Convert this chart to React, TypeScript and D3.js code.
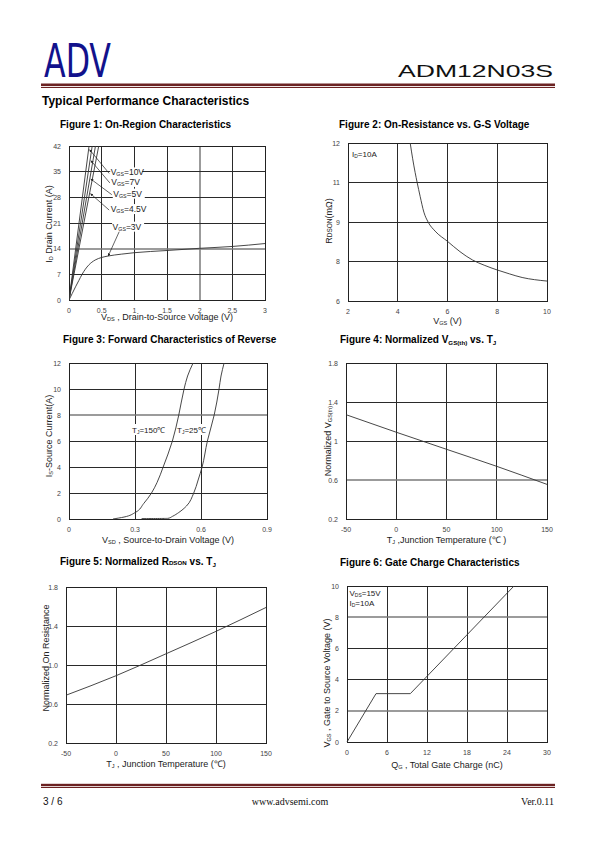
import React from 'react';
import * as d3 from 'd3';

const FONT = "'Liberation Sans', Arial, Helvetica, sans-serif";

// ---------- Figure 1 data ----------
const f1VdsTicks = [0, 0.5, 1, 1.5, 2, 2.5, 3];
const f1IdTicks = [0, 7, 14, 21, 28, 35, 42];
const f1Vgs3Vds = [0, 0.05, 0.1, 0.15, 0.2, 0.25, 0.3, 0.4, 0.5, 0.6, 0.8, 1.0, 1.5, 2.0, 2.5, 3.0];
const f1Vgs3Id = [0, 1.8, 3.6, 5.3, 7.0, 8.4, 9.5, 10.9, 11.6, 12.0, 12.5, 12.9, 13.5, 14.1, 14.6, 15.4];
const f1SteepNames = ['10V', '7V', '5V', '4.5V'];
const f1SteepTopVds = [0.307, 0.355, 0.405, 0.455];
const f1SteepTopId = 42;
const f1LabelNames = ['10V', '7V', '5V', '4.5V', '3V'];
const f1LabelPos = [[0.63, 34.8], [0.64, 32.2], [0.67, 29.0], [0.63, 24.8], [0.66, 20.0]];
const f1ArrowTargetId = [41, 38, 33, 29];
const f1Vgs3Target = [0.6, 12.0];

// ---------- Figure 2 data ----------
const f2VgsTicks = [2, 4, 6, 8, 10];
const f2RTicks = [6, 8, 9, 11, 12];
const f2Vgs = [4.5, 4.6, 4.7, 4.78, 4.9, 5.05, 5.22, 5.5, 6.0, 6.5, 7.0, 7.5, 8.0, 8.5, 9.0, 9.5, 10.0];
const f2R = [12, 11.6, 11.25, 11, 10.3, 9.5, 9, 8.77, 8.51, 8.25, 8.04, 7.8, 7.57, 7.37, 7.19, 7.08, 7.01];

// ---------- Figure 3 data ----------
const f3VsdTicks = [0, 0.3, 0.6, 0.9];
const f3IsTicks = [0, 2, 4, 6, 8, 10, 12];
const f3T150Vsd = [0.2, 0.25, 0.301, 0.34, 0.375, 0.4, 0.428, 0.47, 0.499, 0.523, 0.539, 0.564];
const f3T150Is = [0, 0.15, 0.5, 1.2, 2, 2.8, 4, 6, 8, 10, 11, 12];
const f3T25Vsd = [0.33, 0.45, 0.47, 0.499, 0.534, 0.567, 0.587, 0.605, 0.629, 0.66, 0.682, 0.691, 0.705];
const f3T25Is = [0.03, 0.05, 0.2, 0.5, 1, 2, 3, 4, 6, 8, 10, 11, 12];

// ---------- Figure 4 data ----------
const f4TjTicks = [-50, 0, 50, 100, 150];
const f4NTicks = [0.2, 0.6, 1, 1.4, 1.8];
const f4Tj = [-50, 0, 50, 100, 150];
const f4Vth = [1.27, 1.09, 0.915, 0.74, 0.555];

// ---------- Figure 5 data ----------
const f5TjTicks = [-50, 0, 50, 100, 150];
const f5NTicks = [0.2, 0.6, 1.0, 1.4, 1.8];
const f5Tj = [-50, 0, 50, 100, 150];
const f5Rds = [0.69, 0.89, 1.115, 1.345, 1.59];

// ---------- Figure 6 data ----------
const f6QgTicks = [0, 6, 12, 18, 24, 30];
const f6VgsTicks = [0, 2, 4, 6, 8, 10];
const f6Qg = [0, 4.35, 9.5, 25.05];
const f6Vgs = [0, 3.1, 3.1, 10];

type Box = { l: number; r: number; t: number; b: number };

const GRID = '#2a2a2a';
const SOFT = '#7a7a7a';
const TICK = '#444';
const CURVE = '#333';

function Panel(props: {
  box: Box;
  x: (v: number) => number;
  y: (v: number) => number;
  xTicks: number[];
  yTicks: number[];
  xFmt?: (v: number) => string;
  yFmt?: (v: number) => string;
  xTickY: number;
  softX?: number[];
  softY?: number[];
}) {
  const { box, x, y, xTicks, yTicks, xTickY } = props;
  const softX = props.softX || [];
  const softY = props.softY || [];
  const xFmt = props.xFmt || ((v: number) => String(v));
  const yFmt = props.yFmt || ((v: number) => String(v));
  const crisp = (v: number) => Math.round(v - 0.5) + 0.5;
  return (
    <g>
      {xTicks.map((t, i) => {
        const px = x(t);
        if (Math.abs(px - box.l) < 1 || Math.abs(px - box.r) < 1) return null;
        const soft = softX.includes(t);
        return (
          <line
            key={'vx' + i}
            x1={soft ? Math.round(px) : crisp(px)}
            x2={soft ? Math.round(px) : crisp(px)}
            y1={box.t}
            y2={box.b}
            stroke={soft ? SOFT : GRID}
            strokeWidth={soft ? 1.5 : 1}
          />
        );
      })}
      {yTicks.map((t, i) => {
        const py = y(t);
        if (Math.abs(py - box.t) < 1 || Math.abs(py - box.b) < 1) return null;
        const soft = softY.includes(t);
        return (
          <line
            key={'hy' + i}
            x1={box.l}
            x2={box.r}
            y1={soft ? Math.round(py) : crisp(py)}
            y2={soft ? Math.round(py) : crisp(py)}
            stroke={soft ? SOFT : GRID}
            strokeWidth={soft ? 1.5 : 1}
          />
        );
      })}
      <rect
        x={crisp(box.l)}
        y={crisp(box.t)}
        width={Math.round(box.r - box.l)}
        height={Math.round(box.b - box.t)}
        fill="none"
        stroke="#222"
        strokeWidth={1}
      />
      {xTicks.map((t, i) => (
        <text key={'xl' + i} x={x(t)} y={xTickY} fontSize={7} fill={TICK} textAnchor="middle" dominantBaseline="central">
          {xFmt(t)}
        </text>
      ))}
      {yTicks.map((t, i) => (
        <text key={'yl' + i} x={box.l - 8} y={y(t)} fontSize={7} fill={TICK} textAnchor="end" dominantBaseline="central">
          {yFmt(t)}
        </text>
      ))}
    </g>
  );
}

function Sub({ base, sub, rest, size }: { base: string; sub: string; rest: string; size: number }) {
  const s = size * 0.62;
  const d = size * 0.22;
  return (
    <>
      <tspan>{base}</tspan>
      <tspan fontSize={s} dy={d}>{sub}</tspan>
      <tspan dy={-d}>{rest}</tspan>
    </>
  );
}

function lineFrom(
  xs: number[],
  ys: number[],
  x: (v: number) => number,
  y: (v: number) => number,
  curve: d3.CurveFactory = d3.curveMonotoneX
) {
  const pts = xs.map((v, i) => [v, ys[i]] as [number, number]);
  return d3.line<[number, number]>().x((d) => x(d[0])).y((d) => y(d[1])).curve(curve)(pts) || '';
}

export default function App() {
  // Figure 1
  const b1: Box = { l: 69, r: 265, t: 146, b: 300 };
  const x1 = d3.scaleLinear().domain([0, 3]).range([b1.l, b1.r]);
  const y1 = d3.scaleLinear().domain([0, 42]).range([b1.b, b1.t]);
  // Figure 2 (axis labels are unevenly valued but evenly spaced: piecewise-linear scale)
  const b2: Box = { l: 348, r: 547, t: 143, b: 301 };
  const x2 = d3.scaleLinear().domain([2, 10]).range([b2.l, b2.r]);
  const y2 = d3
    .scaleLinear()
    .domain(f2RTicks)
    .range(f2RTicks.map((_, i) => b2.b - (i * (b2.b - b2.t)) / (f2RTicks.length - 1)));
  // Figure 3
  const b3: Box = { l: 69, r: 267, t: 363, b: 519 };
  const x3 = d3.scaleLinear().domain([0, 0.9]).range([b3.l, b3.r]);
  const y3 = d3.scaleLinear().domain([0, 12]).range([b3.b, b3.t]);
  // Figure 4
  const b4: Box = { l: 346, r: 547, t: 363, b: 519 };
  const x4 = d3.scaleLinear().domain([-50, 150]).range([b4.l, b4.r]);
  const y4 = d3.scaleLinear().domain([0.2, 1.8]).range([b4.b, b4.t]);
  // Figure 5
  const b5: Box = { l: 66, r: 266, t: 587, b: 743 };
  const x5 = d3.scaleLinear().domain([-50, 150]).range([b5.l, b5.r]);
  const y5 = d3.scaleLinear().domain([0.2, 1.8]).range([b5.b, b5.t]);
  // Figure 6
  const b6: Box = { l: 347, r: 547, t: 586, b: 742 };
  const x6 = d3.scaleLinear().domain([0, 30]).range([b6.l, b6.r]);
  const y6 = d3.scaleLinear().domain([0, 10]).range([b6.b, b6.t]);

  const titleStyle = { fontSize: 10, fontWeight: 'bold' as const, fill: '#000' };
  const axisLabel = { fontSize: 9, fill: '#222' };

  const yLine = (xs: number[], ys: number[], x: (v: number) => number, y: (v: number) => number) =>
    d3
      .line<[number, number]>()
      .x((d) => x(d[0]))
      .y((d) => y(d[1]))
      .curve(d3.curveMonotoneY)(xs.map((v, i) => [v, ys[i]] as [number, number])) || '';

  return (
    <svg
      width={595}
      height={842}
      viewBox="0 0 595 842"
      style={{ position: 'absolute', left: 0, top: 0, background: '#fff' }}
      fontFamily={FONT}
    >
      <defs>
        <marker id="arr" viewBox="0 0 6 6" refX={5.5} refY={3} markerWidth={4} markerHeight={4} orient="auto">
          <path d="M0,0 L6,3 L0,6 z" fill="#222" />
        </marker>
        <clipPath id="c1">
          <rect x={b1.l} y={b1.t} width={b1.r - b1.l} height={b1.b - b1.t} />
        </clipPath>
      </defs>
      <rect x={0} y={0} width={595} height={842} fill="#fff" />

      {/* Header */}
      <text
        x={44}
        y={76.5}
        fontFamily="'Liberation Sans Narrow', 'DejaVu Sans Condensed', Arial"
        fontSize={46}
        fill="#12128c"
        textLength={67}
        lengthAdjust="spacingAndGlyphs"
      >
        ADV
      </text>
      <text x={398} y={76.5} fontSize={17} fill="#111" textLength={155} lengthAdjust="spacingAndGlyphs">
        ADM12N03S
      </text>
      <rect x={41} y={83.5} width={514} height={2.6} fill="#6b2222" />
      <rect x={41} y={87} width={514} height={1} fill="#6b2222" />
      <text x={42} y={104.5} fontSize={12} fontWeight="bold" fill="#000">
        Typical Performance Characteristics
      </text>

      {/* Titles */}
      <text x={60} y={128} {...titleStyle}>Figure 1: On-Region Characteristics</text>
      <text x={339} y={128} {...titleStyle}>Figure 2: On-Resistance vs. G-S Voltage</text>
      <text x={63} y={343} {...titleStyle}>Figure 3: Forward Characteristics of Reverse</text>
      <text x={340} y={343} {...titleStyle}>
        <Sub base="Figure 4: Normalized V" sub="GS(th)" rest=" vs. T" size={10} />
        <tspan fontSize={6.2} dy={2.2}>J</tspan>
      </text>
      <text x={60} y={565} {...titleStyle}>
        <tspan>Figure 5: Normalized R</tspan>
        <tspan fontSize={6.2}>DSON</tspan>
        <tspan> vs. T</tspan>
        <tspan fontSize={6.2} dy={2.2}>J</tspan>
      </text>
      <text x={340} y={566} {...titleStyle}>Figure 6: Gate Charge Characteristics</text>

      {/* ---------- Figure 1 ---------- */}
      <Panel box={b1} x={x1} y={y1} xTicks={f1VdsTicks} yTicks={f1IdTicks} xTickY={310} softX={[2]} softY={[14]} />
      <g clipPath="url(#c1)">
        {f1SteepTopVds.map((v, i) => (
          <path
            key={'s' + f1SteepNames[i]}
            d={lineFrom([0, v], [0, f1SteepTopId], x1, y1, d3.curveLinear)}
            fill="none"
            stroke={CURVE}
            strokeWidth={0.9}
          />
        ))}
        <path d={lineFrom(f1Vgs3Vds, f1Vgs3Id, x1, y1)} fill="none" stroke={CURVE} strokeWidth={0.9} />
      </g>
      {f1LabelNames.map((n, i) => {
        const lx = x1(f1LabelPos[i][0]);
        const ly = y1(f1LabelPos[i][1]);
        let tx: number, ty: number;
        if (i < 4) {
          const idv = f1ArrowTargetId[i];
          tx = x1((f1SteepTopVds[i] * idv) / f1SteepTopId) + 1;
          ty = y1(idv);
        } else {
          tx = x1(f1Vgs3Target[0]);
          ty = y1(f1Vgs3Target[1]);
        }
        const sx = i < 4 ? lx - 1 : lx + 8;
        const sy = i < 4 ? ly + 1 : ly + 3;
        return (
          <g key={'lab' + i}>
            <line x1={sx} y1={sy} x2={tx} y2={ty} stroke="#222" strokeWidth={0.7} markerEnd="url(#arr)" />
            <rect x={lx} y={ly - 5} width={n.length > 3 ? 37 : 32} height={10} fill="#fff" />
            <text x={lx + 0.5} y={ly} fontSize={8.5} fill="#222" dominantBaseline="central">
              <Sub base="V" sub="GS" rest={'=' + n} size={8.5} />
            </text>
          </g>
        );
      })}
      <text x={(b1.l + b1.r) / 2} y={317} fontSize={9} fill="#222" textAnchor="middle" dominantBaseline="central">
        <Sub base="V" sub="DS" rest=" , Drain-to-Source Voltage (V)" size={9} />
      </text>
      <text transform={`translate(49,224) rotate(-90)`} {...axisLabel} textAnchor="middle" dominantBaseline="central">
        <Sub base="I" sub="D" rest=" Drain Current (A)" size={9} />
      </text>

      {/* ---------- Figure 2 ---------- */}
      <Panel box={b2} x={x2} y={y2} xTicks={f2VgsTicks} yTicks={f2RTicks} xTickY={311} />
      <path d={lineFrom(f2Vgs, f2R, x2, y2)} fill="none" stroke={CURVE} strokeWidth={0.9} />
      <text x={352} y={154} fontSize={8} fill="#222" dominantBaseline="central">
        <Sub base="I" sub="D" rest="=10A" size={8} />
      </text>
      <text x={(b2.l + b2.r) / 2} y={321} {...axisLabel} textAnchor="middle" dominantBaseline="central">
        <Sub base="V" sub="GS" rest=" (V)" size={9} />
      </text>
      <text transform={`translate(329,221) rotate(-90)`} {...axisLabel} textAnchor="middle" dominantBaseline="central">
        <tspan>R</tspan>
        <tspan fontSize={6.5}>DSON</tspan>
        <tspan>(mΩ)</tspan>
      </text>

      {/* ---------- Figure 3 ---------- */}
      <Panel box={b3} x={x3} y={y3} xTicks={f3VsdTicks} yTicks={f3IsTicks} xTickY={529} softY={[8]} />
      <rect x={131} y={424} width={32} height={11} fill="#fff" />
      <rect x={176} y={424} width={34} height={11} fill="#fff" />
      <path d={yLine(f3T150Vsd, f3T150Is, x3, y3)} fill="none" stroke={CURVE} strokeWidth={0.9} />
      <path d={yLine(f3T25Vsd, f3T25Is, x3, y3)} fill="none" stroke={CURVE} strokeWidth={0.9} />
      <text x={132} y={430} fontSize={8} fill="#222" dominantBaseline="central">
        <Sub base="T" sub="J" rest="=150℃" size={8} />
      </text>
      <text x={177} y={430} fontSize={8} fill="#222" dominantBaseline="central">
        <Sub base="T" sub="J" rest="=25℃" size={8} />
      </text>
      <text x={(b3.l + b3.r) / 2} y={540} {...axisLabel} textAnchor="middle" dominantBaseline="central">
        <Sub base="V" sub="SD" rest=" , Source-to-Drain Voltage (V)" size={9} />
      </text>
      <text transform={`translate(49,436) rotate(-90)`} {...axisLabel} textAnchor="middle" dominantBaseline="central">
        <Sub base="I" sub="S" rest="-Source Current(A)" size={9} />
      </text>

      {/* ---------- Figure 4 ---------- */}
      <Panel box={b4} x={x4} y={y4} xTicks={f4TjTicks} yTicks={f4NTicks} xTickY={529} softY={[0.6]} />
      <path d={lineFrom(f4Tj, f4Vth, x4, y4)} fill="none" stroke={CURVE} strokeWidth={0.9} />
      <text x={(b4.l + b4.r) / 2} y={540} {...axisLabel} textAnchor="middle" dominantBaseline="central">
        <Sub base="T" sub="J" rest=" ,Junction Temperature (℃ )" size={9} />
      </text>
      <text transform={`translate(328,441) rotate(-90)`} {...axisLabel} textAnchor="middle" dominantBaseline="central">
        <Sub base="Normalized V" sub="GS(th)" rest="" size={9} />
      </text>

      {/* ---------- Figure 5 ---------- */}
      <Panel box={b5} x={x5} y={y5} xTicks={f5TjTicks} yTicks={f5NTicks} xTickY={753} yFmt={(v) => v.toFixed(1)} />
      <path d={lineFrom(f5Tj, f5Rds, x5, y5)} fill="none" stroke={CURVE} strokeWidth={0.9} />
      <text x={(b5.l + b5.r) / 2} y={764} {...axisLabel} textAnchor="middle" dominantBaseline="central">
        <Sub base="T" sub="J" rest=" , Junction Temperature (℃)" size={9} />
      </text>
      <text transform={`translate(46,658) rotate(-90)`} {...axisLabel} textAnchor="middle" dominantBaseline="central">
        Normalized On Resistance
      </text>

      {/* ---------- Figure 6 ---------- */}
      <Panel box={b6} x={x6} y={y6} xTicks={f6QgTicks} yTicks={f6VgsTicks} xTickY={752} softY={[2, 8]} />
      <path d={lineFrom(f6Qg, f6Vgs, x6, y6, d3.curveLinear)} fill="none" stroke={CURVE} strokeWidth={0.9} />
      <text x={349.5} y={593} fontSize={8} fill="#222" dominantBaseline="central">
        <Sub base="V" sub="DS" rest="=15V" size={8} />
      </text>
      <text x={349.5} y={603} fontSize={8} fill="#222" dominantBaseline="central">
        <Sub base="I" sub="D" rest="=10A" size={8} />
      </text>
      <text x={(b6.l + b6.r) / 2} y={765} {...axisLabel} textAnchor="middle" dominantBaseline="central">
        <Sub base="Q" sub="G" rest=" , Total Gate Charge (nC)" size={9} />
      </text>
      <text transform={`translate(327,683) rotate(-90)`} {...axisLabel} textAnchor="middle" dominantBaseline="central">
        <Sub base="V" sub="GS" rest=" , Gate to Source Voltage (V)" size={9} />
      </text>

      {/* Footer */}
      <rect x={41} y={783.8} width={514} height={2.4} fill="#6b2222" />
      <rect x={41} y={787} width={514} height={1} fill="#6b2222" />
      <text x={43} y={805} fontSize={10} fill="#111">3 / 6</text>
      <text x={290} y={805} fontSize={10} fill="#111" fontFamily="'Liberation Serif', 'Times New Roman', serif" textAnchor="middle">
        www.advsemi.com
      </text>
      <text x={554} y={805} fontSize={10} fill="#111" fontFamily="'Liberation Serif', 'Times New Roman', serif" textAnchor="end">
        Ver.0.11
      </text>
    </svg>
  );
}
